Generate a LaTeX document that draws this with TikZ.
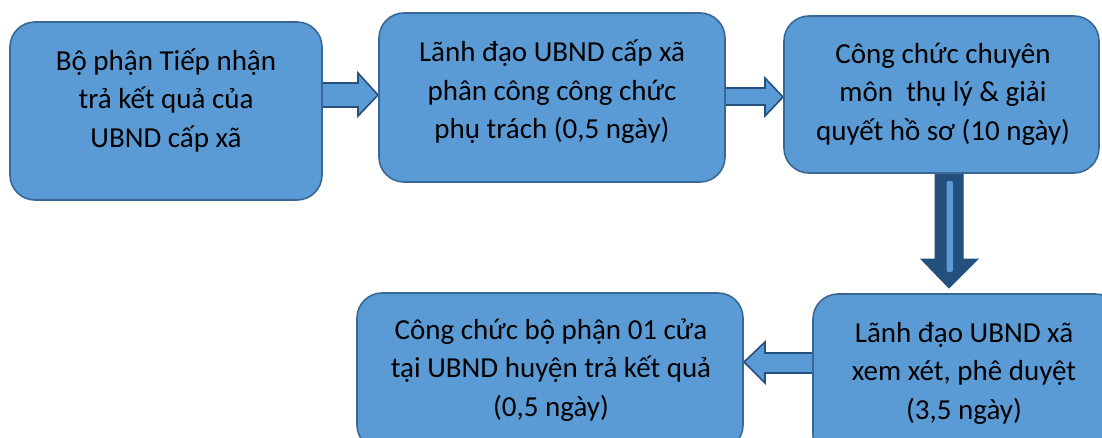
\documentclass[tikz,border=0pt]{standalone}
\usepackage{fontspec}
\setmainfont{Carlito}
\definecolor{boxfill}{HTML}{5B9BD5}
\definecolor{boxline}{HTML}{3A6896}
\definecolor{arrline}{HTML}{24507D}
\definecolor{arrdark}{HTML}{24507D}
\tikzset{
  box/.style={draw=boxline, line width=1.6pt, fill=boxfill, rounded corners=25pt},
  txt/.style={align=center, font=\fontsize{29}{38.5}\selectfont, text=black, inner sep=0pt},
  blockarrow/.style={draw=arrline, line width=1.6pt, fill=boxfill, line join=miter},
  darkarrow/.style={draw=arrdark, line width=1pt, fill=arrdark},
}
\begin{document}
\begin{tikzpicture}[x=1pt,y=-1pt]
\useasboundingbox (0,0) rectangle (1102,437);
\clip (0,0) rectangle (1102,437);
\fill[white] (0,0) rectangle (1102,437);
% connectors (block arrows)
\draw[blockarrow] (322,83) -- (358,83) -- (358,73) -- (378,95) -- (358,116) -- (358,107) -- (322,107) -- cycle;
\draw[blockarrow] (725,88) -- (765,88) -- (765,78) -- (783,97) -- (765,116) -- (765,105) -- (725,105) -- cycle;
\draw[darkarrow] (935,170) -- (963,170) -- (963,259) -- (978,259) -- (949,288) -- (921,259) -- (935,259) -- cycle;
\fill[boxfill, rounded corners=2pt] (946.5,181) rectangle (953,272);
\draw[blockarrow] (815,353) -- (765,353) -- (765,342) -- (744,362) -- (765,383) -- (765,373) -- (815,373) -- cycle;
% boxes
\draw[box] (10,22) rectangle (322,200);
\node[coordinate] (b1) at (166,111) {};
\draw[box] (379,13) rectangle (725,182);
\node[coordinate] (b2) at (552,97) {};
\draw[box] (784,16) rectangle (1099,173);
\node[coordinate] (b3) at (941,94) {};
\draw[box] (813,294) rectangle (1120,460);
\node[coordinate] (b4) at (964,373) {};
\draw[box] (357,293) rectangle (743,450);
\node[coordinate] (b5) at (550,370) {};
% texts
\node[txt] (t1) at (166,100) {Bộ phận Tiếp nhận\\trả kết quả của\\UBND cấp xã};
\node[txt] (t2) at (552,92) {Lãnh đạo UBND cấp xã\\phân công công chức\\phụ trách (0,5 ngày)};
\node[txt] (t3) at (943,94) {Công chức chuyên\\môn\ \ thụ lý \& giải\\quyết hồ sơ (10 ngày)};
\node[txt] (t4) at (964,373) {Lãnh đạo UBND xã\\xem xét, phê duyệt\\(3,5 ngày)};
\node[txt] (t5) at (551,370) {Công chức bộ phận 01 cửa\\tại UBND huyện trả kết quả\\(0,5 ngày)};
\end{tikzpicture}
\end{document}
